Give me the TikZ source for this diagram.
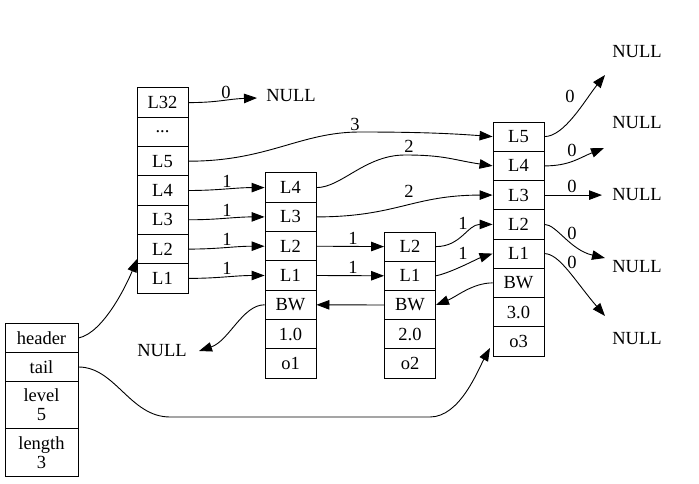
\documentclass[tikz,border=0pt]{standalone}
\usepackage{fontspec}
\setmainfont{Liberation Serif}
\usetikzlibrary{arrows.meta}
\begin{document}
\begin{tikzpicture}[x=1pt,y=-1pt,
  txt/.style={font=\fontsize{18.5}{19}\selectfont, inner sep=0pt},
  cell/.style={txt, draw, line width=0.9pt, minimum width=51pt, minimum height=29.3pt},
  wcell/.style={cell, minimum width=73pt, align=center},
  lab/.style={txt},
  arr/.style={line width=0.9pt, -{Triangle[length=13pt,width=9.5pt]}}]
\useasboundingbox (0,0) rectangle (699,484);
% list structure
\node[wcell, minimum height=29pt] (hd) at (41.5,338) {header};
\node[wcell, minimum height=29pt] (tl) at (41.5,367) {tail};
\node[wcell, minimum height=47pt] (lv) at (41.5,405) {level\\5};
\node[wcell, minimum height=48pt] (ln) at (41.5,452.5) {length\\3};
% header node
\node[cell] (h32) at (162.5,102.6) {L32};
\node[cell] (hdots) at (162.5,131.9) {...};
\node[cell] (h5) at (162.5,161.2) {L5};
\node[cell] (h4) at (162.5,190.5) {L4};
\node[cell] (h3) at (162.5,219.8) {L3};
\node[cell] (h2) at (162.5,249.1) {L2};
\node[cell] (h1) at (162.5,278.4) {L1};
% node 1
\node[cell] (a4) at (290.5,187.6) {L4};
\node[cell] (a3) at (290.5,216.9) {L3};
\node[cell] (a2) at (290.5,246.2) {L2};
\node[cell] (a1) at (290.5,275.5) {L1};
\node[cell] (abw) at (290.5,304.8) {BW};
\node[cell] (asc) at (290.5,334.1) {1.0};
\node[cell] (aob) at (290.5,363.4) {o1};
% node 2
\node[cell] (b2) at (410,246.6) {L2};
\node[cell] (b1) at (410,275.8) {L1};
\node[cell] (bbw) at (410,305) {BW};
\node[cell] (bsc) at (410,334.2) {2.0};
\node[cell] (bob) at (410,363.4) {o2};
% node 3
\node[cell, minimum height=29.25pt] (c5) at (518.5,136.6) {L5};
\node[cell, minimum height=29.25pt] (c4) at (518.5,165.9) {L4};
\node[cell, minimum height=29.25pt] (c3) at (518.5,195.1) {L3};
\node[cell, minimum height=29.25pt] (c2) at (518.5,224.4) {L2};
\node[cell, minimum height=29.25pt] (c1) at (518.5,253.6) {L1};
\node[cell, minimum height=29.25pt] (cbw) at (518.5,282.9) {BW};
\node[cell, minimum height=29.25pt] (csc) at (518.5,312.1) {3.0};
\node[cell, minimum height=29.25pt] (cob) at (518.5,341.4) {o3};
% NULLs
\node[txt] (n32) at (291,96) {NULL};
\node[txt] (nb) at (162,351) {NULL};
\node[txt] (nr5) at (637,52) {NULL};
\node[txt] (nr4) at (637,123) {NULL};
\node[txt] (nr3) at (637,195) {NULL};
\node[txt] (nr2) at (637,267) {NULL};
\node[txt] (nr1) at (637,339) {NULL};
% free ends
\coordinate (e32) at (257,98);
\coordinate (eb) at (199,351);
\coordinate (eh) at (137,259);
\coordinate (m5) at (360,132);
\coordinate (m4) at (405,155);
\coordinate (t1) at (170,417);
\coordinate (t2) at (430,417);
\coordinate (et) at (490,348);
\coordinate (e5) at (605,75);
\coordinate (e4) at (604,148);
\coordinate (e3) at (602,195.1);
\coordinate (e2) at (605,258);
\coordinate (e1) at (605,316);
% edges
\draw[arr] (h32.east) .. controls +(30,0) and +(-30,1) .. (e32);
\node[lab] (l32) at (226,92) {0};
\draw[arr] (h5.east) .. controls +(80,0) and +(-60,0) .. (m5) .. controls +(60,0) and +(-40,-3) .. (c5.west);
\node[lab] (l5) at (355,124) {3};
\draw[arr] (h4.east) .. controls +(30,0) and +(-30,0) .. (a4.west);
\node[lab] (l4) at (227,181) {1};
\draw[arr] (h3.east) .. controls +(30,0) and +(-30,0) .. (a3.west);
\node[lab] (l3) at (227,210) {1};
\draw[arr] (h2.east) .. controls +(30,0) and +(-30,0) .. (a2.west);
\node[lab] (l2) at (227,239) {1};
\draw[arr] (h1.east) .. controls +(30,0) and +(-30,0) .. (a1.west);
\node[lab] (l1) at (227,268) {1};
\draw[arr] (a4.east) .. controls +(25,0) and +(-40,0) .. (m4) .. controls +(40,0) and +(-40,-6) .. (c4.west);
\node[lab] (la4) at (409,146) {2};
\draw[arr] (a3.east) .. controls +(80,0) and +(-80,0) .. (c3.west);
\node[lab] (la3) at (409,191) {2};
\draw[arr] (a2.east) -- (b2.west);
\node[lab] (la2) at (353,238) {1};
\draw[arr] (a1.east) -- (b1.west);
\node[lab] (la1) at (353,267) {1};
\draw[arr] (b2.east) .. controls +(25,0) and +(-25,0) .. (c2.west);
\node[lab] (lb2) at (463,223) {1};
\draw[arr] (b1.east) .. controls +(15,-3) and +(-15,5) .. (c1.west);
\node[lab] (lb1) at (463,253) {1};
\draw[arr] (cbw.west) .. controls +(-20,0) and +(20,-8) .. (bbw.east);
\draw[arr] (bbw.west) -- (abw.east);
\draw[arr] (abw.west) .. controls +(-22,0) and +(30,-10) .. (eb);
\draw[arr] (hd.east) .. controls +(25,-5) and +(-10,25) .. (eh);
\draw[arr] (tl.east) .. controls +(37,0) and +(-40,0) .. (t1) -- (t2) .. controls +(30,0) and +(-12,22) .. (et);
\draw[arr] (c5.east) .. controls +(20,0) and +(-20,25) .. (e5);
\node[lab] (lc5) at (570,96) {0};
\draw[arr] (c4.east) .. controls +(25,0) and +(-25,10) .. (e4);
\node[lab] (lc4) at (572,150) {0};
\draw[arr] (c3.east) -- (e3);
\node[lab] (lc3) at (572,186) {0};
\draw[arr] (c2.east) .. controls +(12,0) and +(-35,-8) .. (e2);
\node[lab] (lc2) at (572,233) {0};
\draw[arr] (c1.east) .. controls +(15,0) and +(-30,-35) .. (e1);
\node[lab] (lc1) at (572,262) {0};
\end{tikzpicture}
\end{document}
